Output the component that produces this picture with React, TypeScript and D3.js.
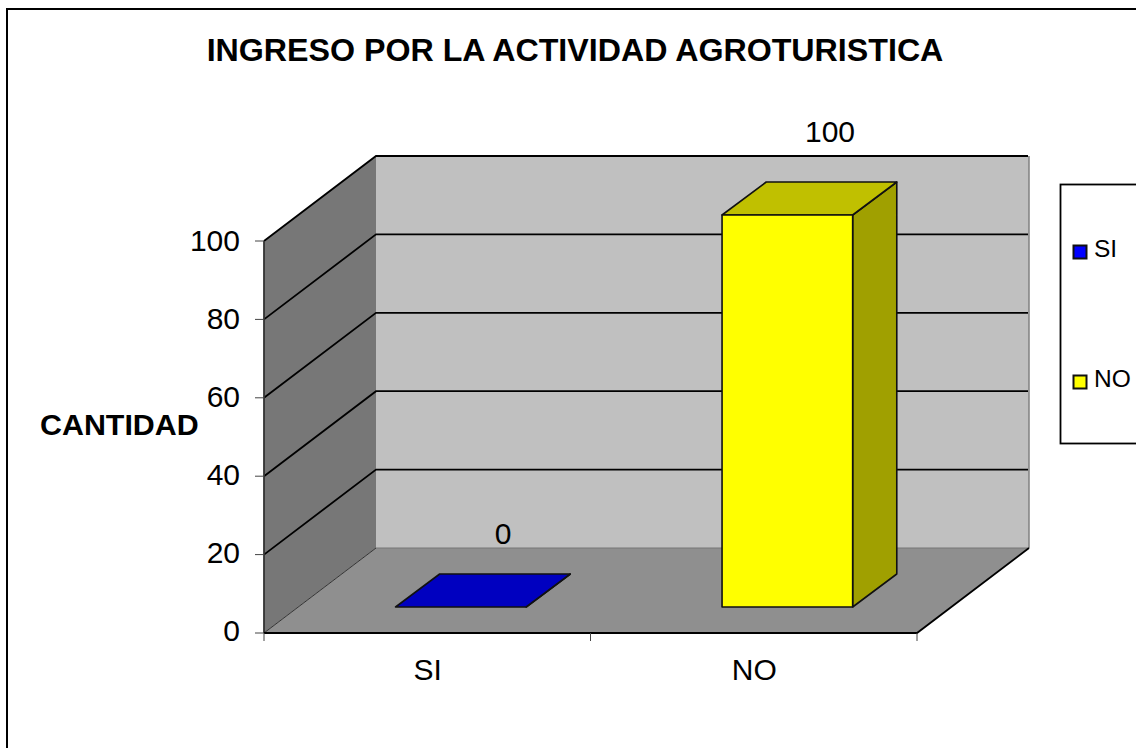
import React from "react";
import * as d3 from "d3";

const categories = ["SI", "NO"];
const values = [0, 100];
const frontColors = ["#0000C0", "#FFFF00"];
const topColors = ["#0000C0", "#C0C000"];
const sideColors = ["#000090", "#A0A000"];
const legendColors = ["#0000FF", "#FFFF00"];
const yTicks = [0, 20, 40, 60, 80, 100];
const title = "INGRESO POR LA ACTIVIDAD AGROTURISTICA";
const yTitle = "CANTIDAD";

const W = 1136, H = 748;
const x0 = 264, x1 = 917, yBase = 633, yTop = 241;
const depthX = 112, depthY = -85;
const x = d3.scaleBand<string>().domain(categories).range([x0, x1]).paddingInner(0).paddingOuter(0);
const y = d3.scaleLinear().domain([0, 100]).range([yBase, yTop]);
const yLabel = d3.scaleLinear().domain([0, 100]).range([641, 251]);
const barW = x.bandwidth() / 2.5;
const f1 = 0.3, f2 = 0.694;
const font = "'Liberation Sans', Arial, sans-serif";
const pts = (a: number[][]) => a.map((p) => p.join(",")).join(" ");

export default function App() {
  return (
    <svg width={W} height={H} viewBox={`0 0 ${W} ${H}`} style={{ position: "absolute", left: 0, top: 0, background: "#fff" }} fontFamily={font}>
      <rect x={7} y={9} width={W + 20} height={H + 20} fill="#fff" stroke="#000" strokeWidth={2} />
      <text x={575} y={61} textAnchor="middle" fontSize={32.2} fontWeight="bold">{title}</text>

      {/* walls */}
      <polygon points={pts([[x0 + depthX, y(100) + depthY], [x1 + depthX, y(100) + depthY], [x1 + depthX, yBase + depthY], [x0 + depthX, yBase + depthY]])} fill="#C0C0C0" />
      <polygon points={pts([[x0, y(100)], [x0 + depthX, y(100) + depthY], [x0 + depthX, yBase + depthY], [x0, yBase]])} fill="#777777" />
      <polygon points={pts([[x0, yBase], [x0 + depthX, yBase + depthY], [x1 + depthX, yBase + depthY], [x1, yBase]])} fill="#8F8F8F" />
      <line x1={x1 + depthX} x2={x1 + depthX} y1={y(100) + depthY} y2={yBase + depthY} stroke="#808080" strokeWidth={1.5} />

      {/* gridlines */}
      {yTicks.map((t) => (
        <polyline key={t} fill="none" stroke={t === 0 ? "#333" : "#000"} strokeWidth={t === 0 ? 1 : 1.8}
          points={pts([[x0, y(t)], [x0 + depthX, y(t) + depthY], ...(t === 0 ? [] : [[x1 + depthX - 1, y(t) + depthY]])])} />
      ))}
      <line x1={x0 + depthX} x2={x1 + depthX} y1={yBase + depthY} y2={yBase + depthY} stroke="#777" strokeWidth={1} />

      {/* axes */}
      <line x1={x0} x2={x0} y1={y(100)} y2={yBase} stroke="#333" strokeWidth={1.8} />
      <polyline points={pts([[x0, yBase], [x1, yBase], [x1 + depthX, yBase + depthY]])} fill="none" stroke="#000" strokeWidth={1.8} />
      {yTicks.map((t) => (
        <g key={t}>
          <line x1={x0 - 9} x2={x0} y1={y(t)} y2={y(t)} stroke="#444" strokeWidth={1} />
          <text x={240} y={yLabel(t)} textAnchor="end" fontSize={30}>{t}</text>
        </g>
      ))}
      {[x0, x0 + x.bandwidth(), x1].map((v) => (
        <line key={v} x1={v} x2={v} y1={yBase} y2={yBase + 8} stroke="#444" strokeWidth={1} />
      ))}
      {categories.map((c) => (
        <text key={c} x={(x(c) as number) + x.bandwidth() / 2 + 0.5} y={680} textAnchor="middle" fontSize={30}>{c}</text>
      ))}
      <text x={40} y={435} fontSize={30.4} fontWeight="bold">{yTitle}</text>

      {/* bars */}
      {categories.map((c, i) => {
        const left = (x(c) as number) + (x.bandwidth() - barW) / 2 + depthX * f1;
        const right = left + barW;
        const bot = yBase + depthY * 0.306;
        const top = bot - (yBase - y(values[i]));
        const dx = depthX * (f2 - f1), dy = depthY * (f2 - 0.306);
        return (
          <g key={c} stroke="#111" strokeWidth={1.6} strokeLinejoin="round">
            <polygon points={pts([[right, bot], [right + dx, bot + dy], [right + dx, top + dy], [right, top]])} fill={sideColors[i]} />
            <polygon points={pts([[left, top], [left + dx, top + dy], [right + dx, top + dy], [right, top]])} fill={topColors[i]} />
            <rect x={left} y={top} width={barW} height={bot - top} fill={frontColors[i]} />
          </g>
        );
      })}
      <text x={503} y={544} textAnchor="middle" fontSize={30}>{values[0]}</text>
      <text x={830} y={142} textAnchor="middle" fontSize={30}>{values[1]}</text>

      {/* legend */}
      <rect x={1060.5} y={184.5} width={W} height={259} fill="#fff" stroke="#000" strokeWidth={1.8} />
      {categories.map((c, i) => {
        const yy = 245 + i * 130;
        return (
          <g key={c}>
            <rect x={1073.5} y={yy + 0.5} width={13} height={13} fill={legendColors[i]} stroke="#111" strokeWidth={2} />
            <text x={1094} y={yy + 12} fontSize={24.5}>{c}</text>
          </g>
        );
      })}
    </svg>
  );
}
